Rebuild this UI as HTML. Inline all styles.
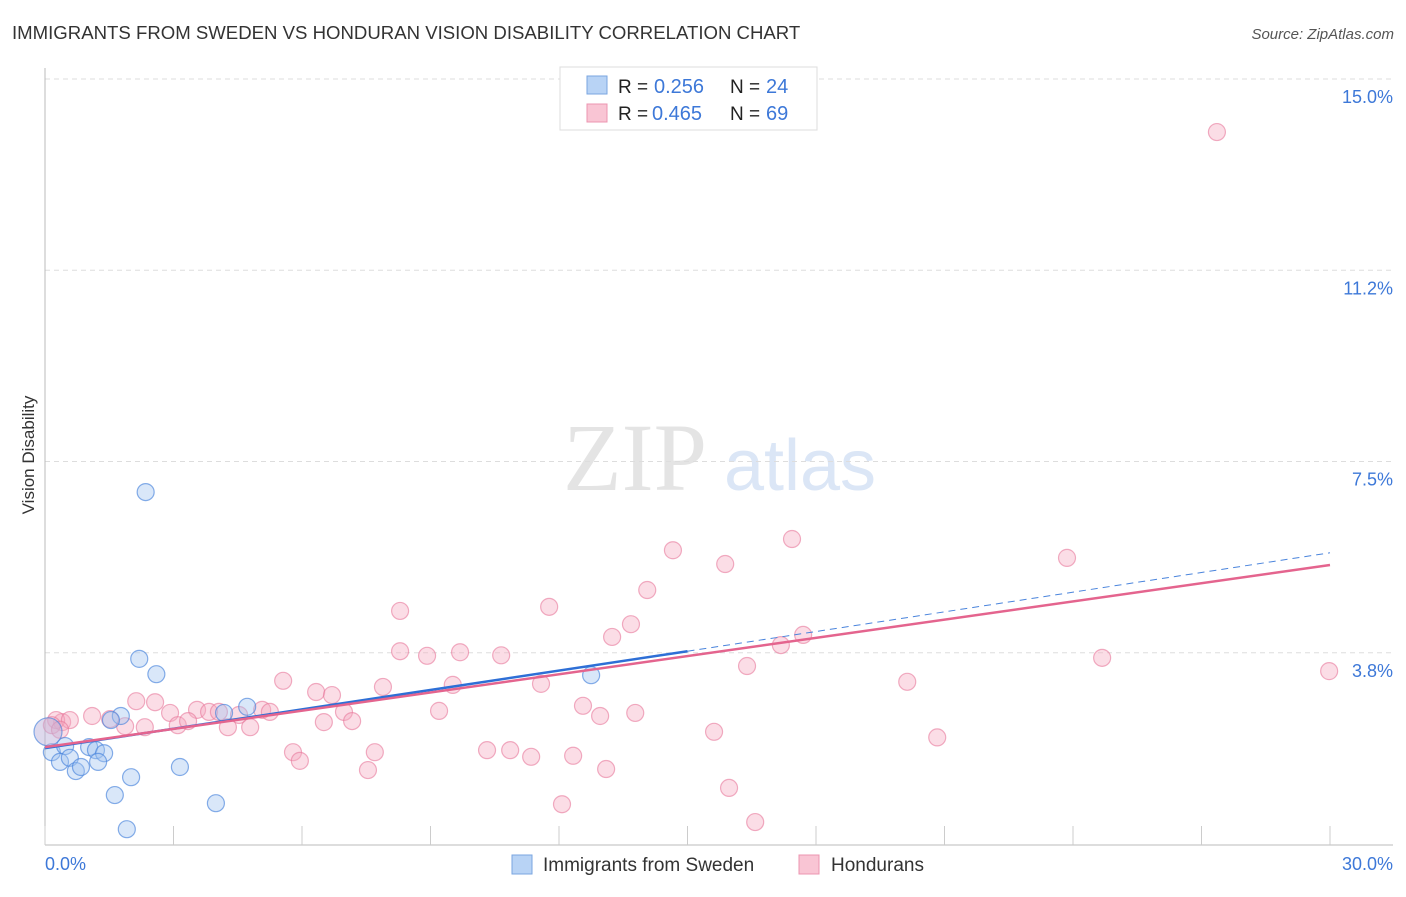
<!DOCTYPE html>
<html><head><meta charset="utf-8"><style>
body{margin:0;background:#fff;font-family:"Liberation Sans",sans-serif}
</style></head><body>
<svg id="c" width="1406" height="892" xmlns="http://www.w3.org/2000/svg">
<text x="12" y="39" font-size="18.6" fill="#333">IMMIGRANTS FROM SWEDEN VS HONDURAN VISION DISABILITY CORRELATION CHART</text>
<text x="1394" y="39" font-size="15" fill="#555" font-style="italic" text-anchor="end">Source: ZipAtlas.com</text>
<text x="34" y="455" font-size="17" fill="#333" transform="rotate(-90 34 455)" text-anchor="middle">Vision Disability</text>
<g><text x="635" y="490" font-size="96" fill="#e4e4e4" font-family="Liberation Serif,serif" text-anchor="middle">ZIP</text><text x="800" y="490" font-size="72" fill="#dbe6f6" text-anchor="middle">atlas</text></g>
<g id="grid"></g><g id="axes"></g><g id="pts"></g><g id="lines"></g>
<g>
<rect x="560" y="67" width="257" height="63" fill="#fff" stroke="#ddd"/>
<rect x="587" y="76" width="20" height="18" fill="#b8d3f5" stroke="#7aa6e0"/>
<rect x="587" y="104" width="20" height="18" fill="#f9c5d4" stroke="#ec95b0"/>
<text x="618" y="93" font-size="19" fill="#222">R =</text>
<text x="654" y="93" font-size="20" fill="#3d78d8">0.256</text>
<text x="730" y="93" font-size="19" fill="#222">N =</text>
<text x="766" y="93" font-size="20" fill="#3d78d8">24</text>
<text x="618" y="120" font-size="19" fill="#222">R =</text>
<text x="652" y="120" font-size="20" fill="#3d78d8">0.465</text>
<text x="730" y="120" font-size="19" fill="#222">N =</text>
<text x="766" y="120" font-size="20" fill="#3d78d8">69</text>
</g>
<g>
<rect x="512" y="855" width="20" height="19" fill="#b8d3f5" stroke="#7aa6e0"/>
<text x="543" y="871" font-size="19" fill="#333">Immigrants from Sweden</text>
<rect x="799" y="855" width="20" height="19" fill="#f9c5d4" stroke="#ec95b0"/>
<text x="831" y="871" font-size="19" fill="#333">Hondurans</text>
</g>
</svg>
<script>
const yTicks=[3.75,7.5,11.25,15];
const yTickLabels=["3.8%","7.5%","11.2%","15.0%"];
const xTicks=[0,3,6,9,12,15,18,21,24,27,30];
const swedenX=[2.35,2.2,2.6,1.77,1.54,4.72,4.18,12.75,0.16,0.47,0.35,0.58,1.03,1.19,1.38,1.24,0.72,0.84,2.01,3.15,1.63,3.99,1.91,0.07];
const swedenY=[6.9,3.63,3.33,2.51,2.43,2.69,2.57,3.31,1.80,1.92,1.61,1.69,1.90,1.84,1.78,1.61,1.43,1.51,1.31,1.51,0.96,0.80,0.29,2.20];
const hondX=[27.36,17.44,14.66,15.88,23.86,14.06,11.77,8.29,13.68,13.24,17.7,17.18,8.29,8.92,9.69,10.65,16.39,24.68,29.98,20.13,5.56,7.89,9.52,11.58,6.33,6.7,2.13,2.57,2.92,3.55,3.83,4.06,4.53,5.07,5.25,6.98,12.56,9.2,13.78,12.96,1.1,1.52,1.87,0.4,0.26,0.58,2.33,3.1,3.34,4.27,4.79,6.51,7.17,15.62,20.83,5.79,7.7,10.32,10.86,11.35,12.33,5.95,7.54,13.1,15.97,12.07,16.58,0.16,0.35];
const hondY=[13.96,5.98,5.76,5.49,5.61,4.98,4.65,4.57,4.31,4.06,4.1,3.9,3.78,3.69,3.76,3.7,3.49,3.65,3.39,3.18,3.2,3.08,3.12,3.14,2.98,2.92,2.8,2.78,2.57,2.63,2.59,2.59,2.53,2.63,2.59,2.59,2.71,2.61,2.57,2.51,2.51,2.45,2.31,2.39,2.43,2.43,2.29,2.33,2.41,2.29,2.29,2.39,2.41,2.2,2.09,1.8,1.8,1.84,1.84,1.71,1.73,1.63,1.45,1.47,1.1,0.78,0.43,2.33,2.24];
const swedenFit=[1.88,3.78,5.71];
const hondFit=[1.90,5.47];
const NS="http://www.w3.org/2000/svg";
const X=v=>45+v*(1285/30), Y=v=>844-v*51.0;
function mk(t,a,p){const e=document.createElementNS(NS,t);for(const k in a)e.setAttribute(k,a[k]);document.getElementById(p).appendChild(e);return e;}
yTicks.forEach((t,i)=>{
 const l=mk('line',{x1:45,x2:1393,y1:Y(t),y2:Y(t),stroke:'#ddd','stroke-dasharray':'5,4'},'grid');
 
 
 const tx=mk('text',{x:1393,y:Y(t)+24,'font-size':18,fill:'#3d78d8','text-anchor':'end'},'grid');tx.textContent=yTickLabels[i];
 
 
});
let a=mk('line',{x1:45,x2:45,y1:68,y2:845,stroke:'#bbb'},'axes');


a=mk('line',{x1:45,x2:1393,y1:845,y2:845,stroke:'#bbb'},'axes');


xTicks.forEach(t=>{const l=mk('line',{x1:X(t),x2:X(t),y1:826,y2:845,stroke:'#ccc'},'axes');
 
 });
let t=mk('text',{x:45,y:870,'font-size':18,fill:'#3d78d8'},'axes');t.textContent='0.0%';


t=mk('text',{x:1393,y:870,'font-size':18,fill:'#3d78d8','text-anchor':'end'},'axes');t.textContent='30.0%';


hondX.forEach((v,i)=>{const c=mk('circle',{cx:X(v),cy:Y(hondY[i]),r:8.5,fill:'rgba(246,170,192,0.4)',stroke:'rgba(232,120,155,0.6)','stroke-width':1.2},'pts');
 
 });
swedenX.forEach((v,i)=>{const c=mk('circle',{cx:X(v),cy:Y(swedenY[i]),r:i==23?14:8.5,fill:i==23?'rgba(190,180,220,0.5)':'rgba(160,195,240,0.4)',stroke:'rgba(70,130,220,0.65)','stroke-width':1.2},'pts');
 
 });
let ln=mk('line',{x1:X(0),y1:Y(swedenFit[0]),x2:X(15),y2:Y(swedenFit[1]),stroke:'#2e6fd6','stroke-width':2.5},'lines');


ln=mk('line',{x1:X(15),y1:Y(swedenFit[1]),x2:X(30),y2:Y(swedenFit[2]),stroke:'#4a84dc','stroke-width':1,'stroke-dasharray':'7,5'},'lines');


ln=mk('line',{x1:X(0),y1:Y(hondFit[0]),x2:X(30),y2:Y(hondFit[1]),stroke:'#e4648e','stroke-width':2.5},'lines');


</script>
</body></html>
